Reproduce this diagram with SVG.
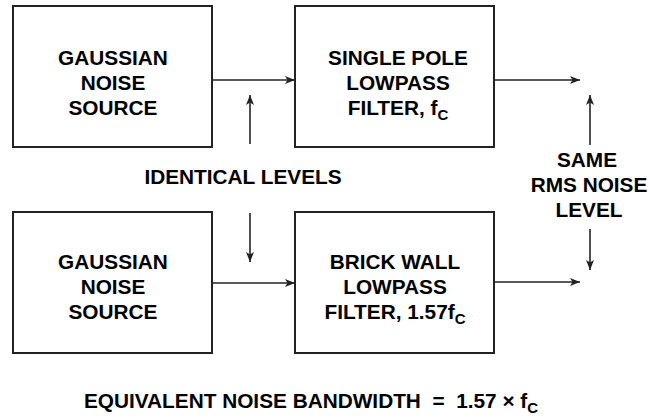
<svg xmlns="http://www.w3.org/2000/svg" width="649" height="416" viewBox="0 0 649 416">
<style>
.box{fill:#fff;stroke:#222;stroke-width:2}
.t{font-family:"Liberation Sans",Arial,sans-serif;font-weight:bold;font-size:20.8px;fill:#000;text-anchor:middle}
.sub{font-size:15px}
.pre{white-space:pre}
.ln{stroke:#222;stroke-width:1.6;fill:none;marker-end:url(#ah)}
</style>
<defs>
<marker id="ah" viewBox="0 0 10 8" refX="10" refY="4" markerWidth="10" markerHeight="8" markerUnits="userSpaceOnUse" orient="auto">
<path d="M0,0 L10,4 L0,8 L2.5,4 Z" fill="#222"/>
</marker>
</defs>
<rect width="649" height="416" fill="#fff"/>
<g id="src1">
<rect class="box" x="13" y="6" width="199" height="141"/>
<text class="t" x="113" y="65">GAUSSIAN</text>
<text class="t" x="113" y="90">NOISE</text>
<text class="t" x="113" y="115">SOURCE</text>
</g>
<g id="filt1">
<rect class="box" x="295" y="6" width="199" height="141"/>
<text class="t" x="398" y="65">SINGLE POLE</text>
<text class="t" x="398" y="90">LOWPASS</text>
<text class="t" x="398" y="115">FILTER, f<tspan class="sub" dy="5">C</tspan></text>
</g>
<g id="src2">
<rect class="box" x="13" y="212" width="199" height="141"/>
<text class="t" x="113" y="269">GAUSSIAN</text>
<text class="t" x="113" y="294">NOISE</text>
<text class="t" x="113" y="319">SOURCE</text>
</g>
<g id="filt2">
<rect class="box" x="295" y="212" width="199" height="141"/>
<text class="t" x="395" y="269">BRICK WALL</text>
<text class="t" x="395" y="294">LOWPASS</text>
<text class="t" x="395" y="319">FILTER, 1.57f<tspan class="sub" dy="5">C</tspan></text>
</g>
<g id="labels">
<text class="t" x="243" y="184">IDENTICAL LEVELS</text>
<text class="t" x="587" y="167">SAME</text>
<text class="t" x="589" y="192">RMS NOISE</text>
<text class="t" x="589" y="217">LEVEL</text>
<text class="t pre" x="311" y="408" xml:space="preserve">EQUIVALENT NOISE BANDWIDTH  =  1.57 × f<tspan class="sub" dy="5">C</tspan></text>
</g>
<g id="connectors">
<line class="ln" x1="212" y1="80" x2="295" y2="80"/>
<line class="ln" x1="494" y1="80" x2="580" y2="80"/>
<line class="ln" x1="212" y1="283" x2="295" y2="283"/>
<line class="ln" x1="494" y1="282" x2="580" y2="282"/>
<line class="ln" x1="250" y1="144" x2="250" y2="95"/>
<line class="ln" x1="250" y1="213" x2="250" y2="262"/>
<line class="ln" x1="590" y1="145" x2="590" y2="95"/>
<line class="ln" x1="590" y1="229" x2="590" y2="270"/>
</g>
</svg>
